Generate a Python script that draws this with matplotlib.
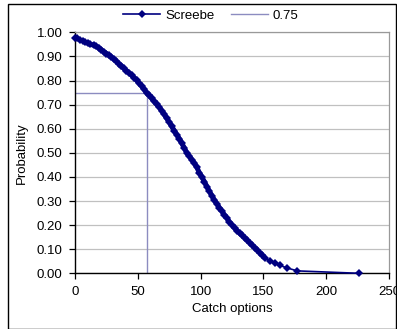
import matplotlib
matplotlib.use("Agg")
import matplotlib.pyplot as plt
from matplotlib.patches import Rectangle

catch_options = [0, 1.3, 4, 6, 8, 10, 12, 15, 17, 19, 21, 23, 25, 27, 29, 31, 33, 35, 37, 39,
                 41, 43, 45, 47, 49, 51, 53, 55, 57, 59, 61, 63, 65, 67, 69, 71, 73, 75, 77, 79,
                 81, 83, 85, 87, 89, 91, 93, 95, 97, 99, 101, 103, 105, 107, 109, 111, 113, 115,
                 117, 119, 121, 123, 125, 127, 129, 131, 133, 135, 137, 139, 141, 143, 145, 147,
                 149, 151, 155, 159, 163, 169, 177, 226]
probability = [0.977, 0.975, 0.968, 0.962, 0.958, 0.955, 0.951, 0.946, 0.942, 0.935, 0.927, 0.919,
               0.912, 0.905, 0.897, 0.889, 0.880, 0.869, 0.860, 0.850, 0.841, 0.832, 0.822, 0.812,
               0.802, 0.788, 0.777, 0.763, 0.749, 0.738, 0.726, 0.713, 0.701, 0.690, 0.675, 0.660,
               0.643, 0.628, 0.610, 0.592, 0.575, 0.559, 0.540, 0.520, 0.500, 0.486, 0.472, 0.457,
               0.440, 0.417, 0.400, 0.380, 0.360, 0.340, 0.322, 0.303, 0.288, 0.272, 0.257, 0.242,
               0.228, 0.213, 0.200, 0.188, 0.177, 0.167, 0.157, 0.147, 0.137, 0.127, 0.117, 0.107,
               0.097, 0.086, 0.076, 0.064, 0.052, 0.042, 0.033, 0.022, 0.010, 0.000]

ref_x = [0, 57, 57]
ref_y = [0.75, 0.75, 0.0]

x_ticks = [0, 50, 100, 150, 200, 250]
y_ticks = [0.0, 0.1, 0.2, 0.3, 0.4, 0.5, 0.6, 0.7, 0.8, 0.9, 1.0]

plt.rcParams['font.family'] = ['Liberation Sans', 'DejaVu Sans']

W, H = 397, 329
fig = plt.figure(figsize=(W / 100, H / 100), dpi=100)
fig.patch.set_facecolor('white')

fig.patches.append(Rectangle((8 / W, 0.5 / H), (395.5 - 8) / W, (325 - 0.5) / H,
                             transform=fig.transFigure, fill=False, edgecolor='black',
                             linewidth=1.0))

ax = fig.add_axes([75 / W, (H - 273.3) / H, 314 / W, 241 / H])
navy = '#000080'
ref_col = '#8c8cc0'

ax.plot(catch_options, probability, color=navy, lw=1.2, marker='D', markersize=3.6,
        markeredgewidth=0, zorder=3, clip_on=False)
ax.plot(catch_options[5:-6], probability[5:-6], color=navy, lw=3.6, zorder=3,
        solid_capstyle='round')
ax.plot([], [], color=navy, lw=1.2, marker='D', markersize=3.6, markeredgewidth=0,
        label='Screebe')
ax.plot(ref_x, ref_y, color=ref_col, lw=1.0, label='0.75', zorder=2)

ax.set_xlim(0, 250)
ax.set_ylim(0, 1.0)
ax.set_xticks(x_ticks)
ax.set_xticklabels([str(v) for v in x_ticks])
ax.set_yticks(y_ticks)
ax.set_yticklabels([f"{v:.2f}" for v in y_ticks])
ax.yaxis.grid(True, color='#c0c0c0', lw=0.9)
ax.set_axisbelow(True)

for s in ['top', 'right']:
    ax.spines[s].set_color('#999999')
    ax.spines[s].set_linewidth(0.9)
for s in ['left', 'bottom']:
    ax.spines[s].set_color('black')
    ax.spines[s].set_linewidth(1.0)

ax.tick_params(axis='both', direction='out', length=4, width=0.9, labelsize=9.5,
               colors='black', pad=5)
ax.set_xlabel('Catch options', fontsize=9.5, labelpad=4)
ax.set_ylabel('Probability', fontsize=9.5, labelpad=6)

fig.legend(loc='center', bbox_to_anchor=(211 / W, 1 - 16 / H), ncol=2, frameon=False,
           fontsize=9.5, handlelength=2.8, columnspacing=1.2, handletextpad=0.4)

fig.savefig('out.png', dpi=100)
